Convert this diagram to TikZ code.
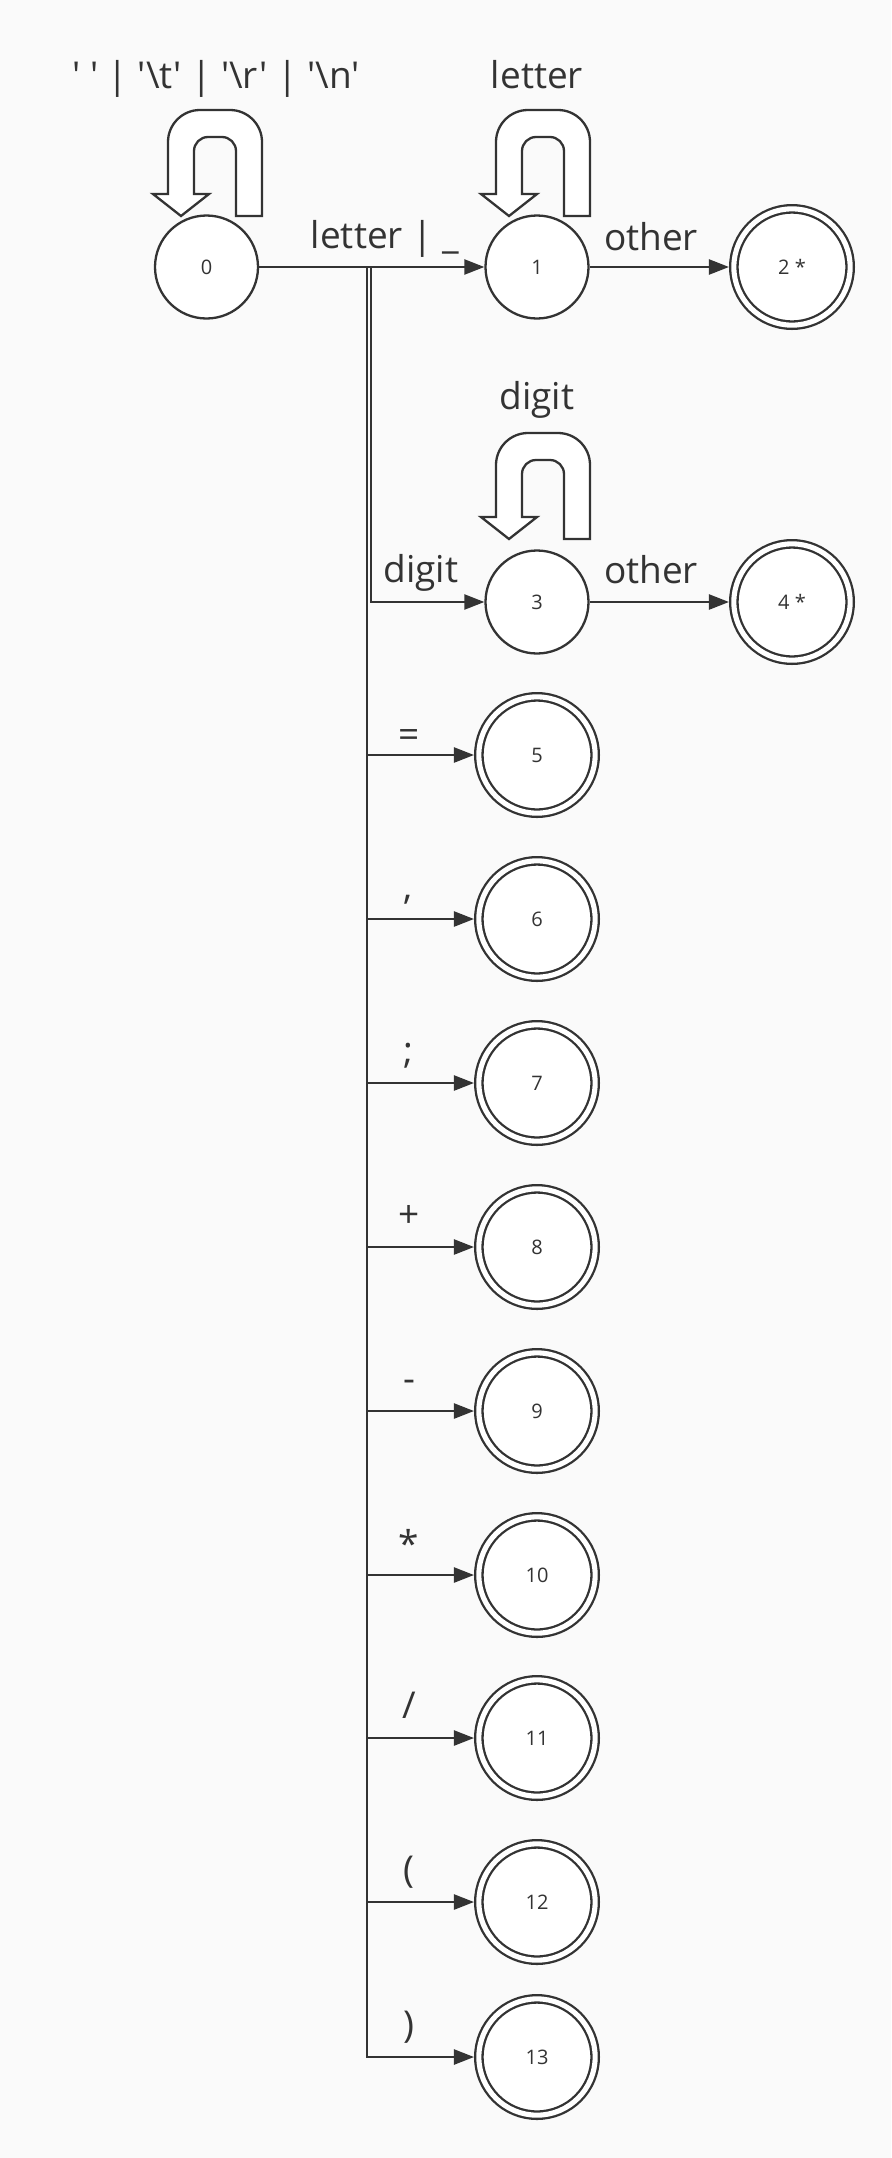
\documentclass[tikz,border=0pt]{standalone}
\usepackage{fontspec}
\newfontfamily\labfont{Open Sans}
\usetikzlibrary{arrows.meta}
\definecolor{inkgray}{HTML}{333333}
\definecolor{paper}{HTML}{FAFAFA}
\newcommand{\uturnat}[1]{%
  \draw[uturn,shift={#1}] (0,0) -- (0,-74) arc[start angle=0,end angle=-90,radius=32]
    -- (-62,-106) arc[start angle=-90,end angle=-180,radius=32]
    -- (-94,-22) -- (-109,-22) -- (-81,0) -- (-53,-22) -- (-68,-22)
    -- (-68,-65) arc[start angle=180,end angle=270,radius=14]
    -- (-40,-79) arc[start angle=270,end angle=360,radius=14]
    -- (-26,0) -- cycle;}
\begin{document}
\begin{tikzpicture}[x=0.5pt,y=-0.5pt,
  state/.style={circle,draw=inkgray,fill=white,line width=1.15pt,minimum size=51.5pt,
                inner sep=0pt,font=\labfont\fontsize{10}{12}\selectfont,text=inkgray},
  accept/.style={state,double=white,double distance=2.55pt,minimum size=58.15pt,outer sep=2.43pt},
  edge/.style={draw=inkgray,line width=1.15pt,-{Triangle[length=10pt,width=7.5pt]}},
  lab/.style={anchor=base,inner sep=0pt,font=\labfont\fontsize{18.5}{22}\selectfont,text=inkgray},
  uturn/.style={draw=inkgray,fill=white,line width=1.15pt,line join=miter}
]
  \fill[paper] (0,0) rectangle (891,2158);
  \useasboundingbox (0,0) rectangle (891,2158);

  \node[state] (s0) at (206.5,267) {0};
  \node[state] (s1) at (537,267) {1};
  \node[accept] (s2) at (792,267) {2 *};
  \node[state] (s3) at (537,602) {3};
  \node[accept] (s4) at (792,602) {4 *};
  \node[accept] (s5) at (537,755) {5};
  \node[accept] (s6) at (537,919) {6};
  \node[accept] (s7) at (537,1083) {7};
  \node[accept] (s8) at (537,1247) {8};
  \node[accept] (s9) at (537,1411) {9};
  \node[accept] (s10) at (537,1575) {10};
  \node[accept] (s11) at (537,1738) {11};
  \node[accept] (s12) at (537,1902) {12};
  \node[accept] (s13) at (537,2057) {13};

  \uturnat{(262,216)}
  \uturnat{(590,216)}
  \uturnat{(590,539)}

  \coordinate (bus) at (366.7,267);
  \coordinate (busd) at (371,267);
  \draw[edge] (s0) -- (s1);
  \draw[edge] (s1) -- (s2);
  \draw[edge] (s3) -- (s4);
  \draw[edge] (s0) -- (busd) |- (s3);
  \draw[edge] (s0) -- (bus) |- (s5);
  \draw[edge] (s0) -- (bus) |- (s6);
  \draw[edge] (s0) -- (bus) |- (s7);
  \draw[edge] (s0) -- (bus) |- (s8);
  \draw[edge] (s0) -- (bus) |- (s9);
  \draw[edge] (s0) -- (bus) |- (s10);
  \draw[edge] (s0) -- (bus) |- (s11);
  \draw[edge] (s0) -- (bus) |- (s12);
  \draw[edge] (s0) -- (bus) |- (s13);

  \node[lab] (ws) at (216,88) {' ' | '\textbackslash t' | '\textbackslash r' | '\textbackslash n'};
  \node[lab] (lt) at (537,88) {letter};
  \node[lab] (dg) at (537,409) {digit};
  \node[lab] (l01) at (385,248) {letter | \_};
  \node[lab] (l12) at (651,250) {other};
  \node[lab] (l03) at (421,582) {digit};
  \node[lab] (l34) at (651,583) {other};
  \node[lab] (l5) at (409,747) {=};
  \node[lab] (l6) at (408,899) {,};
  \node[lab] (l7) at (408,1063) {;};
  \node[lab] (l8) at (409,1227) {+};
  \node[lab] (l9) at (409,1391) {-};
  \node[lab] (l10) at (409,1557) {*};
  \node[lab] (l11) at (409,1718) {/};
  \node[lab] (l12b) at (409,1882) {(};
  \node[lab] (l13) at (409,2037) {)};
\end{tikzpicture}
\end{document}
